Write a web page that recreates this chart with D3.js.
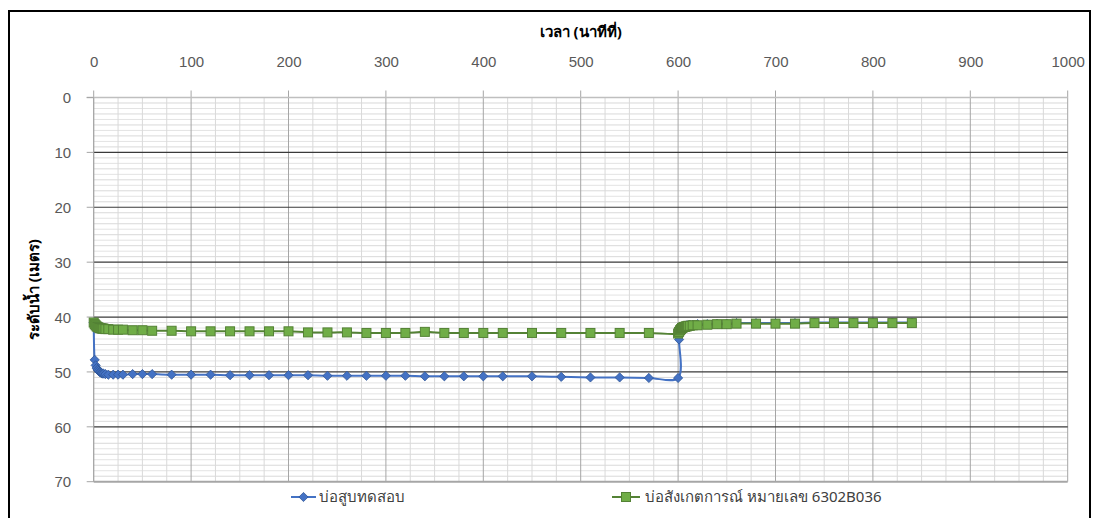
<!DOCTYPE html>
<html>
<head>
<meta charset="utf-8">
<script src="https://cdn.jsdelivr.net/npm/d3@7"></script>
<style>
  html, body { margin: 0; padding: 0; background: #fff; }
  svg { display: block; font-family: "Noto Sans", "DejaVu Sans", sans-serif; }
</style>
</head>
<body>
<svg id="chart" width="1097" height="518"></svg>
<script>
// Elapsed time (minutes): pumping phase 0-600, then recovery 600-840
const timeMin = [
  0, 1, 2, 3, 4, 5, 6, 7, 8, 9, 10, 12, 15, 20, 25, 30, 40, 50, 60, 80,
  100, 120, 140, 160, 180, 200, 220, 240, 260, 280, 300, 320, 340, 360, 380, 400,
  420, 450, 480, 510, 540, 570, 600,
  601, 602, 603, 604, 605, 606, 607, 608, 609, 610, 612, 615, 620, 630, 640, 650, 660,
  680, 700, 720, 740, 760, 780, 800, 820, 840
];

// Water level below ground (m) - pumping well
const levelPumpWell = [
  41.0, 47.8, 48.8, 49.3, 49.6, 49.8, 50.0, 50.1, 50.2, 50.3, 50.3, 50.4, 50.5, 50.5, 50.5, 50.5, 50.4, 50.4, 50.4, 50.5,
  50.5, 50.5, 50.6, 50.6, 50.6, 50.6, 50.6, 50.7, 50.7, 50.7, 50.7, 50.7, 50.8, 50.8, 50.8, 50.8,
  50.8, 50.8, 50.9, 51.0, 51.0, 51.1, 51.1,
  44.1, 42.6, 42.2, 42.0, 41.8, 41.7, 41.6, 41.6, 41.5, 41.5, 41.4, 41.4, 41.3, 41.3, 41.2, 41.2, 41.1,
  41.1, 41.1, 41.1, 41.0, 41.0, 41.0, 41.0, 41.0, 41.0
];

// Water level below ground (m) - observation well 6302B036
const levelObsWell = [
  41.0, 41.3, 41.5, 41.7, 41.8, 41.9, 42.0, 42.0, 42.1, 42.1, 42.1, 42.2, 42.2, 42.3, 42.3, 42.3, 42.4, 42.4, 42.5, 42.5,
  42.6, 42.6, 42.6, 42.6, 42.6, 42.6, 42.8, 42.8, 42.8, 42.9, 42.9, 42.9, 42.7, 42.9, 42.9, 42.9,
  42.9, 42.9, 42.9, 42.9, 42.9, 42.9, 43.0,
  42.7, 42.4, 42.2, 42.0, 41.9, 41.8, 41.8, 41.7, 41.7, 41.6, 41.6, 41.5, 41.5, 41.4, 41.3, 41.3, 41.2,
  41.2, 41.2, 41.2, 41.1, 41.1, 41.1, 41.1, 41.1, 41.1
];

const seriesNames = ["บ่อสูบทดสอบ", "บ่อสังเกตการณ์ หมายเลข 6302B036"];
const xTitle = "เวลา (นาทีที่)";
const yTitle = "ระดับน้ำ (เมตร)";
const xTicks = [0, 100, 200, 300, 400, 500, 600, 700, 800, 900, 1000];
const yTicks = [0, 10, 20, 30, 40, 50, 60, 70];

const svg = d3.select("#chart");
const plotL = 93.7, plotR = 1067.7, plotT = 97.5, plotB = 481.7;

const x = d3.scaleLinear().domain([0, 1000]).range([plotL, plotR]);
const y = d3.scaleLinear().domain([0, 70]).range([plotT, plotB]);

// outer frame
svg.append("rect")
  .attr("x", 9).attr("y", 11).attr("width", 1081).attr("height", 530)
  .attr("fill", "#fff").attr("stroke", "#000").attr("stroke-width", 2);

const grid = svg.append("g");

// minor horizontal gridlines (every 1 m)
grid.selectAll("line.hmin").data(d3.range(1, 70).filter(v => v % 10 !== 0))
  .join("line")
  .attr("x1", plotL).attr("x2", plotR)
  .attr("y1", d => y(d)).attr("y2", d => y(d))
  .attr("stroke", d => d % 2 ? "#d9d9d9" : "#e3e3e3").attr("stroke-width", 1);

// minor vertical gridlines (every 25 min)
grid.selectAll("line.vmin").data(d3.range(25, 1000, 25).filter(v => v % 100 !== 0))
  .join("line")
  .attr("x1", d => x(d)).attr("x2", d => x(d))
  .attr("y1", plotT).attr("y2", plotB)
  .attr("stroke", "#d9d9d9").attr("stroke-width", 1);

// major vertical gridlines with upward tick marks
grid.selectAll("line.vmaj").data(xTicks)
  .join("line")
  .attr("x1", d => x(d)).attr("x2", d => x(d))
  .attr("y1", plotT - 7).attr("y2", plotB)
  .attr("stroke", "#a6a6a6").attr("stroke-width", 1);

// major horizontal gridlines
grid.selectAll("line.hmaj").data(yTicks.filter(v => v > 0 && v < 70))
  .join("line")
  .attr("x1", plotL).attr("x2", plotR)
  .attr("y1", d => y(d)).attr("y2", d => y(d))
  .attr("stroke", "#3a3a3a").attr("stroke-width", 1.2);

// top axis line (0 m) and bottom boundary (70 m)
grid.append("line")
  .attr("x1", plotL - 7).attr("x2", plotR).attr("y1", y(0)).attr("y2", y(0))
  .attr("stroke", "#bfbfbf").attr("stroke-width", 1.5);
grid.append("line")
  .attr("x1", plotL).attr("x2", plotR).attr("y1", y(70)).attr("y2", y(70))
  .attr("stroke", "#a6a6a6").attr("stroke-width", 2);

// left axis ticks
grid.selectAll("line.ytick").data(yTicks)
  .join("line")
  .attr("x1", plotL - 7).attr("x2", plotL)
  .attr("y1", d => y(d)).attr("y2", d => y(d))
  .attr("stroke", "#a6a6a6").attr("stroke-width", 1);
grid.append("line")
  .attr("x1", plotL).attr("x2", plotL).attr("y1", plotT).attr("y2", plotB)
  .attr("stroke", "#a6a6a6").attr("stroke-width", 1);

// tick labels via d3 axes
const xAxis = svg.append("g").attr("transform", `translate(0,${plotT - 28})`)
  .call(d3.axisTop(x).tickValues(xTicks).tickSize(0).tickFormat(d3.format("d")));
xAxis.select(".domain").remove();
xAxis.selectAll("text").attr("fill", "#595959").attr("font-size", 15);

const yAxis = svg.append("g").attr("transform", `translate(${plotL - 19.5},0)`)
  .call(d3.axisLeft(y).tickValues(yTicks).tickSize(0).tickFormat(d3.format("d")));
yAxis.select(".domain").remove();
yAxis.selectAll("text").attr("fill", "#595959").attr("font-size", 15).attr("dy", "0.35em");

// axis titles
svg.append("text")
  .attr("x", (plotL + plotR) / 2).attr("y", 37)
  .attr("text-anchor", "middle").attr("font-size", 15).attr("font-weight", "bold").attr("fill", "#000")
  .text(xTitle);
svg.append("text")
  .attr("transform", `translate(39,${(plotT + plotB) / 2}) rotate(-90)`)
  .attr("text-anchor", "middle").attr("font-size", 15).attr("font-weight", "bold").attr("fill", "#000")
  .text(yTitle);

const blue = "#4472c4", blueDark = "#2f5597";
const green = "#70ad47", greenDark = "#548235";

const lineGen = d3.line().x(d => x(d[0])).y(d => y(d[1])).curve(d3.curveCatmullRom.alpha(0.5));

const pumpPts = timeMin.map((t, i) => [t, levelPumpWell[i]]);
const obsPts = timeMin.map((t, i) => [t, levelObsWell[i]]);

// square-diamond marker shape
const diamond = "M0,-4.6L4.6,0L0,4.6L-4.6,0Z";

// pumping well series
svg.append("path").attr("d", lineGen(pumpPts))
  .attr("fill", "none").attr("stroke", blue).attr("stroke-width", 2);
svg.selectAll("path.pm").data(pumpPts).join("path")
  .attr("transform", d => `translate(${x(d[0])},${y(d[1])})`)
  .attr("d", diamond).attr("fill", blue).attr("stroke", blueDark).attr("stroke-width", 0.8);

// observation well series
svg.append("path").attr("d", lineGen(obsPts))
  .attr("fill", "none").attr("stroke", greenDark).attr("stroke-width", 2);
svg.selectAll("rect.om").data(obsPts).join("rect")
  .attr("x", d => x(d[0]) - 4.5).attr("y", d => y(d[1]) - 4.5)
  .attr("width", 9).attr("height", 9)
  .attr("fill", green).attr("stroke", greenDark).attr("stroke-width", 1);

// legend
const ly = 497;
const lg = svg.append("g");
lg.append("line").attr("x1", 291).attr("x2", 316).attr("y1", ly).attr("y2", ly)
  .attr("stroke", blue).attr("stroke-width", 2);
lg.append("path").attr("transform", `translate(303.5,${ly})`).attr("d", diamond)
  .attr("fill", blue).attr("stroke", blueDark).attr("stroke-width", 0.8);
lg.append("text").attr("x", 319).attr("y", ly).attr("dy", "0.35em")
  .attr("font-size", 15).attr("fill", "#404040").text(seriesNames[0]);

lg.append("line").attr("x1", 612).attr("x2", 640).attr("y1", ly).attr("y2", ly)
  .attr("stroke", greenDark).attr("stroke-width", 2);
lg.append("rect").attr("x", 626 - 4.5).attr("y", ly - 4.5).attr("width", 9).attr("height", 9)
  .attr("fill", green).attr("stroke", greenDark).attr("stroke-width", 1);
lg.append("text").attr("x", 645).attr("y", ly).attr("dy", "0.35em")
  .attr("font-size", 15).attr("fill", "#404040").text(seriesNames[1]);
</script>
</body>
</html>
